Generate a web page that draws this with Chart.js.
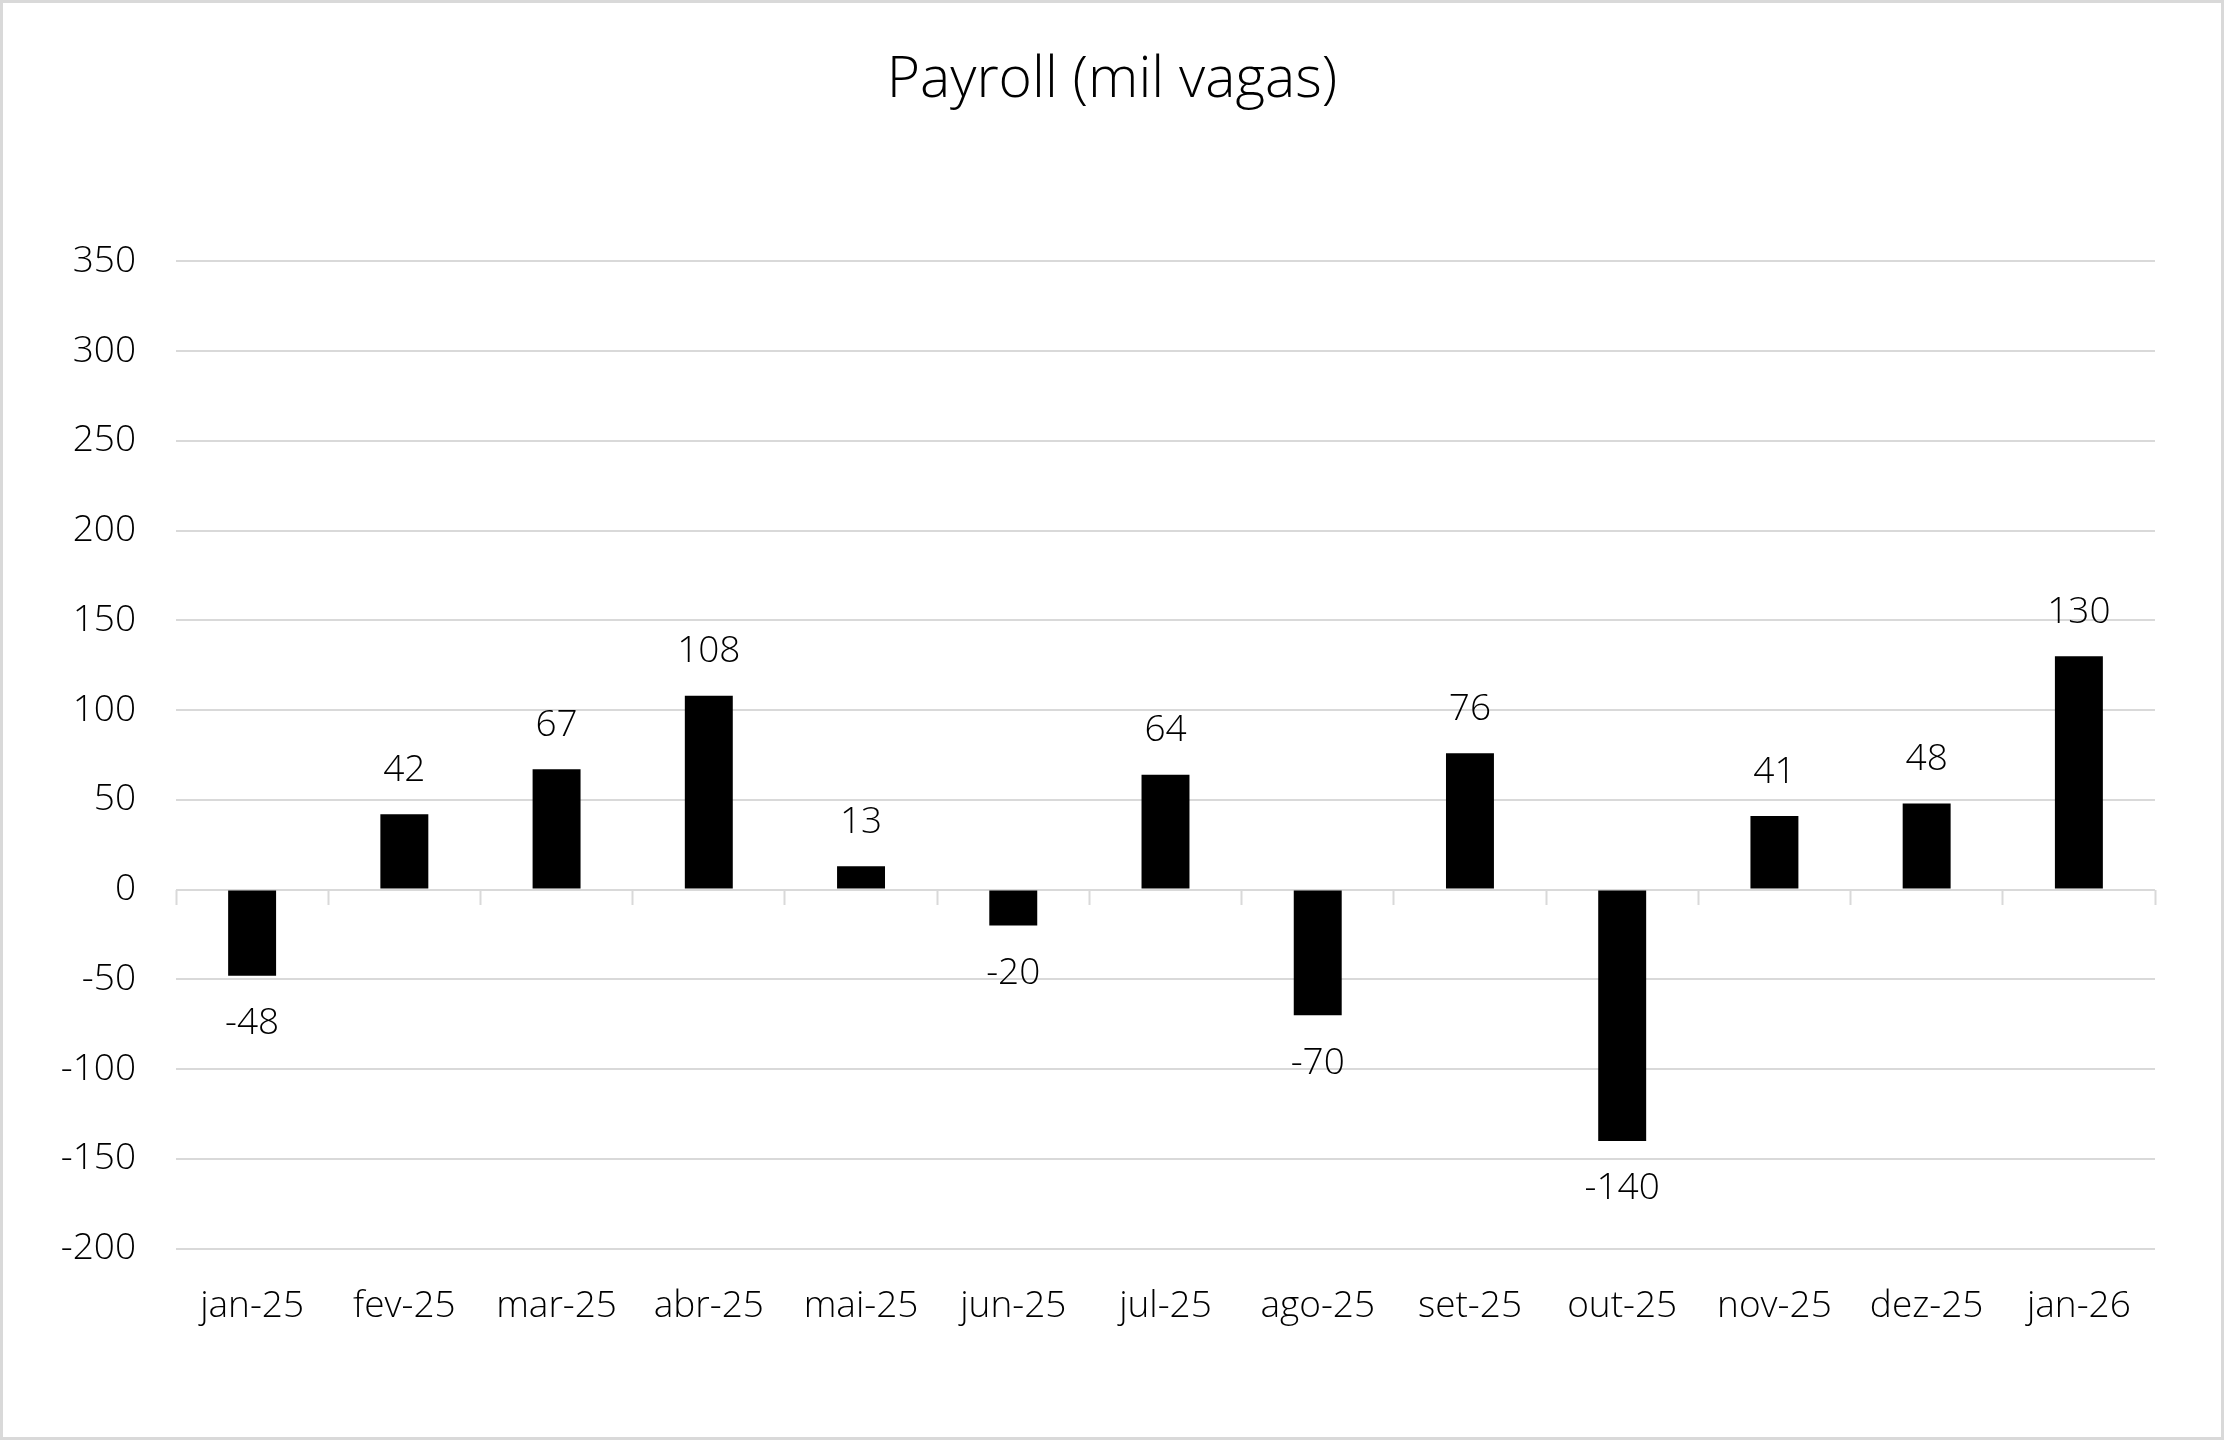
<!DOCTYPE html>
<html>
<head>
<meta charset="utf-8">
<script src="https://cdn.jsdelivr.net/npm/chart.js@4.4.1/dist/chart.umd.min.js"></script>
<style>
  html, body { margin: 0; padding: 0; background: #fff; }
  #frame { width: 2224px; height: 1440px; box-sizing: border-box; border: 3px solid #d9d9d9; }
  #chart { display: block; }
</style>
</head>
<body>
<div id="frame"><canvas id="chart" width="2218" height="1434"></canvas></div>
<script>
const months = ['jan-25', 'fev-25', 'mar-25', 'abr-25', 'mai-25', 'jun-25', 'jul-25',
  'ago-25', 'set-25', 'out-25', 'nov-25', 'dez-25', 'jan-26']
const payroll = [-48, 42, 67, 108, 13, -20, 64, -70, 76, -140, 41, 48, 130]
const chartTitle = 'Payroll (mil vagas)'

const fontFamily = '"Open Sans", "Noto Sans", sans-serif'
const gridColor = '#d9d9d9'

// labels above (or below) each bar, read from the bar elements
const barLabels = {
  id: 'barLabels',
  afterDatasetsDraw (chart) {
    const ctx = chart.ctx
    const meta = chart.getDatasetMeta(0)
    ctx.save()
    ctx.font = '300 37px ' + fontFamily
    ctx.fillStyle = '#000'
    ctx.textAlign = 'center'
    ctx.textBaseline = 'middle'
    meta.data.forEach((bar, i) => {
      const v = payroll[i]
      const y = v >= 0 ? bar.y - 44 : bar.y + 48
      ctx.fillText(String(v), bar.x, y)
    })
    ctx.restore()
  }
}

new Chart(document.getElementById('chart'), {
  type: 'bar',
  data: {
    labels: months,
    datasets: [{
      data: payroll,
      backgroundColor: '#000',
      borderWidth: 0,
      categoryPercentage: 1,
      barPercentage: 0.315
    }]
  },
  options: {
    responsive: false,
    animation: false,
    devicePixelRatio: 1,
    layout: { padding: { left: 0, right: 0, top: 0, bottom: 72 } },
    plugins: {
      legend: { display: false },
      tooltip: { enabled: false },
      title: {
        display: true,
        text: chartTitle,
        color: '#000',
        font: { family: fontFamily, size: 57, weight: '300', lineHeight: 1.2 },
        padding: { top: 44, bottom: 146 }
      }
    },
    scales: {
      x: {
        position: 'bottom',
        grid: { display: false, drawTicks: false },
        border: { display: false },
        ticks: {
          color: '#000',
          padding: 36,
          maxRotation: 0,
          autoSkip: false,
          font: { family: fontFamily, size: 37, weight: '300' }
        }
      },
      x2: {
        type: 'category',
        axis: 'x',
        position: { y: 0 },
        offset: true,
        grid: {
          offset: true,
          drawOnChartArea: false,
          drawTicks: true,
          tickLength: 15,
          tickWidth: 2,
          tickColor: gridColor
        },
        border: { display: false },
        ticks: { display: false }
      },
      y: {
        min: -200,
        max: 350,
        afterFit: (scale) => { scale.width = 173 },
        grid: { color: gridColor, lineWidth: 2, drawTicks: false },
        border: { display: false },
        ticks: {
          stepSize: 50,
          color: '#000',
          padding: 40,
          font: { family: fontFamily, size: 37, weight: '300' }
        }
      },
      // empty right-hand margin, same role as the blank space in the original
      yRight: {
        position: 'right',
        axis: 'y',
        min: -200,
        max: 350,
        afterFit: (scale) => { scale.width = 66 },
        grid: { display: false, drawTicks: false },
        border: { display: false },
        ticks: { display: false }
      }
    }
  },
  plugins: [barLabels]
})
</script>
</body>
</html>
